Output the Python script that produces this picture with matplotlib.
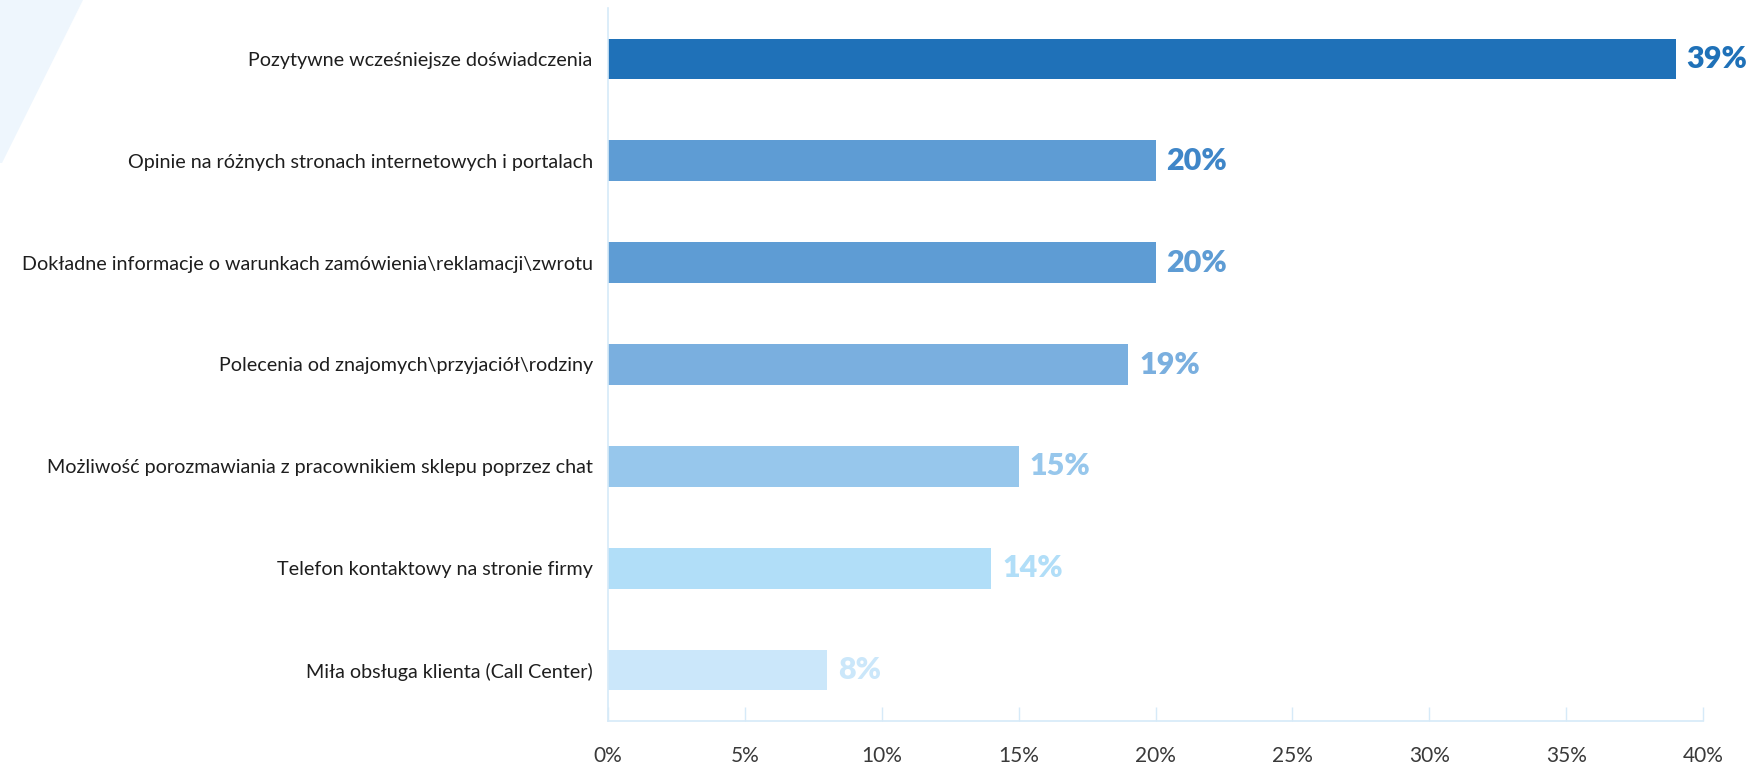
import matplotlib
matplotlib.use('Agg')
import matplotlib.pyplot as plt
from matplotlib.patches import Polygon
import numpy as np

categories = [
    'Pozytywne wcześniejsze doświadczenia',
    'Opinie na różnych stronach internetowych i portalach',
    'Dokładne informacje o warunkach zamówienia\\reklamacji\\zwrotu',
    'Polecenia od znajomych\\przyjaciół\\rodziny',
    'Możliwość porozmawiania z pracownikiem sklepu poprzez chat',
    'Telefon kontaktowy na stronie firmy',
    'Miła obsługa klienta (Call Center)',
]
values = [39, 20, 20, 19, 15, 14, 8]
bar_colors = ['#1f71b8', '#5e9cd4', '#5e9cd4', '#7aafdf', '#97c7ec', '#b1def8', '#cbe7fa']
label_colors = ['#1f71b8', '#3f86c8', '#5e9cd4', '#7aafdf', '#97c7ec', '#b1def8', '#cbe7fa']
xticks = [0, 5, 10, 15, 20, 25, 30, 35, 40]

axis_color = '#d6eaf8'

plt.rcParams['font.family'] = ['Lato', 'DejaVu Sans']

fig = plt.figure(figsize=(17.63, 7.65), dpi=100)

# pale diagonal shape in the top-left corner
fig.patches.append(Polygon([(0, 1), (83 / 1763, 1), (2 / 1763, 1 - 163 / 765), (0, 1 - 163 / 765)],
                           closed=True, transform=fig.transFigure, facecolor='#eef6fd',
                           edgecolor='none', zorder=0))

ax = fig.add_axes([608 / 1763, 1 - 721 / 765, (1703 - 608) / 1763, (721 - 8) / 765])
ax.patch.set_alpha(0)

y = np.arange(len(categories))
ax.barh(y, values, height=0.40, color=bar_colors, zorder=2)

for yi, v, c in zip(y, values, label_colors):
    ax.text(v + 0.4, yi, f'{v}%', va='center', ha='left', fontsize=22,
            fontweight='heavy', color=c)

ax.set_ylim(len(categories) - 0.5, -0.5)
ax.set_xlim(0, 40)
ax.set_yticks(y)
ax.set_yticklabels(categories, fontsize=14.2, color='#1e1e1e')
ax.set_xticks(xticks)
ax.set_xticklabels([f'{t}%' for t in xticks], fontsize=15, color='#3a3a3a')

ax.tick_params(axis='y', length=0, pad=11)
ax.tick_params(axis='x', direction='in', length=10, width=1, color=axis_color, pad=18)

for side in ['top', 'right']:
    ax.spines[side].set_visible(False)
for side in ['left', 'bottom']:
    ax.spines[side].set_color(axis_color)
    ax.spines[side].set_linewidth(1.2)

fig.savefig('out.png', dpi=100)
